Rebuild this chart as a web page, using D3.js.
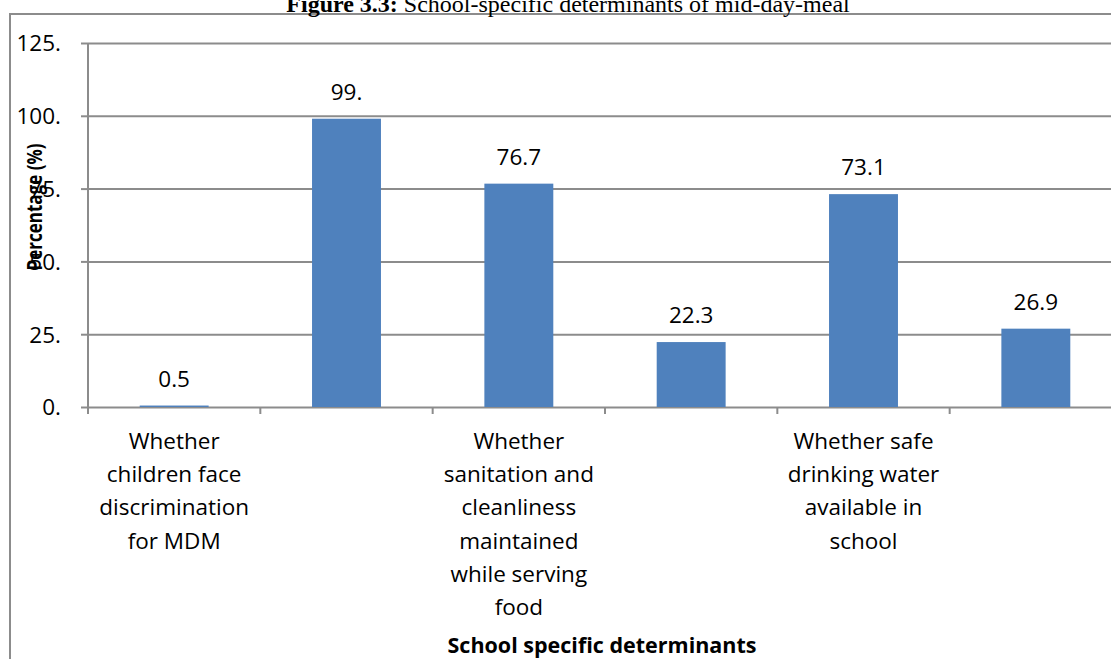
<!DOCTYPE html>
<html>
<head>
<meta charset="utf-8">
<script src="https://cdn.jsdelivr.net/npm/d3@7"></script>
<style>
  html, body { margin: 0; padding: 0; background: #fff; overflow: hidden; }
  svg { display: block; }
</style>
</head>
<body>
<svg id="chart"></svg>
<script>
// School-specific determinants of MDM — Excel style bar chart
// every other category label is hidden (Excel skipped them), so those are blank lines

const CATEGORY_LINES = [
    ['Whether', 'children face', 'discrimination', 'for MDM'],
    [],
    ['Whether', 'sanitation and', 'cleanliness', 'maintained', 'while serving', 'food'],
    [],
    ['Whether safe', 'drinking water', 'available in', 'school'],
    [],
];
const VALUES = [0.5, 99, 76.7, 22.3, 73.1, 26.9];
const Y_TICKS = [0, 25, 50, 75, 100, 125];

const W = 1111, H = 659;
const FONT = '"Open Sans", "Noto Sans", sans-serif';
const FS = 22.5;
const GRID = '#8c8c8c';
const BAR = '#4f81bd';

// Excel wrote whole numbers as "99." — keep that
const fmt = v => Number.isInteger(v) ? v + '.' : String(v);

const svg = d3.select('#chart').attr('width', W).attr('height', H);

// ── plot box ─────────────────────────────────────────────────────────────
const plotL = 88, plotT = 43, plotB = 407;
const plotR = 1122; // runs a bit past the window, like the scan

const x = d3.scaleBand().domain(d3.range(VALUES.length)).range([plotL, plotR]).paddingInner(0).paddingOuter(0);
const y = d3.scaleLinear().domain([0, 125]).range([plotB, plotT]);

// outer chart frame (only left and top edges are visible)
svg.append('path')
    .attr('d', `M10,${H} L10,14 L${W},14`)
    .attr('fill', 'none').attr('stroke', GRID).attr('stroke-width', 2);

// title, cut off by the top of the page
const title = svg.append('text')
    .attr('x', 568).attr('y', 12)
    .attr('text-anchor', 'middle')
    .attr('font-family', '"Liberation Serif", "Times New Roman", serif')
    .attr('font-size', 24);
title.append('tspan').attr('font-weight', 'bold').text('Figure 3.3:');
title.append('tspan').text(' School-specific determinants of mid-day-meal');

// ── gridlines + y axis ───────────────────────────────────────────────────
const yAxis = d3.axisLeft(y).tickValues(Y_TICKS).tickFormat(fmt).tickSize(-(plotR - plotL)).tickPadding(10);
const gy = svg.append('g').attr('transform', `translate(${plotL},0)`).call(yAxis);
gy.select('.domain').remove();
gy.selectAll('.tick line').attr('stroke', GRID).attr('stroke-width', 2);
gy.selectAll('.tick').append('line')
    .attr('x1', -7).attr('x2', 0).attr('stroke', GRID).attr('stroke-width', 2);
gy.selectAll('.tick text')
    .attr('font-family', FONT).attr('font-size', FS).attr('fill', '#000')
    .attr('x', -27).attr('dy', '0.35em');

// vertical axis line
svg.append('line')
    .attr('x1', plotL).attr('x2', plotL).attr('y1', plotT).attr('y2', plotB + 6)
    .attr('stroke', GRID).attr('stroke-width', 2);

// category boundary ticks under the x axis
svg.append('g').selectAll('line')
    .data(d3.range(VALUES.length + 1))
    .join('line')
    .attr('x1', i => plotL + i * x.step()).attr('x2', i => plotL + i * x.step())
    .attr('y1', plotB).attr('y2', plotB + 7)
    .attr('stroke', GRID).attr('stroke-width', 2);

// ── bars ────────────────────────────────────────────────────────────────
const barW = x.bandwidth() * 0.4;
svg.append('g').selectAll('rect')
    .data(VALUES)
    .join('rect')
    .attr('x', (d, i) => x(i) + (x.bandwidth() - barW) / 2)
    .attr('y', d => y(d))
    .attr('width', barW)
    .attr('height', d => plotB - y(d))
    .attr('fill', BAR);

// value labels
svg.append('g').selectAll('text')
    .data(VALUES)
    .join('text')
    .attr('x', (d, i) => x(i) + x.bandwidth() / 2)
    .attr('y', d => y(d) - 19)
    .attr('text-anchor', 'middle')
    .attr('font-family', FONT).attr('font-size', FS)
    .text(fmt);

// category labels, wrapped by hand
const catG = svg.append('g');
CATEGORY_LINES.forEach((lines, i) => {
    const t = catG.append('text')
        .attr('text-anchor', 'middle')
        .attr('font-family', FONT).attr('font-size', FS);
    lines.forEach((ln, j) => {
        t.append('tspan')
            .attr('x', x(i) + x.bandwidth() / 2)
            .attr('y', 449 + j * 33.2)
            .text(ln);
    });
});

// axis titles — y title is narrower in the original, squeeze it to that length
svg.append('text')
    .attr('transform', 'translate(42,207) rotate(-90)')
    .attr('text-anchor', 'middle')
    .attr('font-family', FONT).attr('font-size', 21).attr('font-weight', 'bold')
    .attr('textLength', 127).attr('lengthAdjust', 'spacingAndGlyphs')
    .text('Percentage (%)');

svg.append('text')
    .attr('x', 602).attr('y', 653)
    .attr('text-anchor', 'middle')
    .attr('font-family', FONT).attr('font-size', 21.5).attr('font-weight', 'bold')
    .text('School specific determinants');
</script>
</body>
</html>
